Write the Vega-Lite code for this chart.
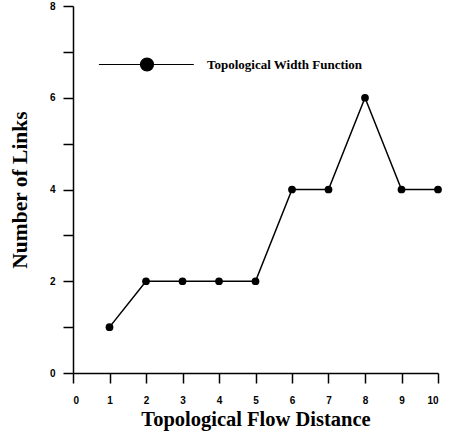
{
  "$schema": "https://vega.github.io/schema/vega-lite/v6.json",
  "width": 365,
  "height": 367,
  "autosize": "none",
  "padding": {"left": 73, "top": 6, "right": 14, "bottom": 64},
  "background": "white",
  "config": {
    "view": {"stroke": null},
    "axis": {
      "domainColor": "black",
      "domainWidth": 1.5,
      "tickColor": "black",
      "tickWidth": 1.5,
      "tickSize": 10,
      "grid": false,
      "labelFont": "Liberation Sans",
      "labelFontWeight": "bold",
      "labelFontSize": 10,
      "labelColor": "black",
      "titleFont": "Liberation Serif",
      "titleFontWeight": "bold",
      "titleColor": "black"
    }
  },
  "data": {
    "values": [
      {"distance": 1, "links": 1},
      {"distance": 2, "links": 2},
      {"distance": 3, "links": 2},
      {"distance": 4, "links": 2},
      {"distance": 5, "links": 2},
      {"distance": 6, "links": 4},
      {"distance": 7, "links": 4},
      {"distance": 8, "links": 6},
      {"distance": 9, "links": 4},
      {"distance": 10, "links": 4}
    ]
  },
  "encoding": {
    "x": {
      "field": "distance",
      "type": "quantitative",
      "scale": {"domain": [0, 10], "nice": false},
      "axis": {
        "values": [0, 1, 2, 3, 4, 5, 6, 7, 8, 9, 10],
        "labelPadding": 12,
        "title": "Topological Flow Distance",
        "titleFontSize": 20.5,
        "titlePadding": 4
      }
    },
    "y": {
      "field": "links",
      "type": "quantitative",
      "scale": {"domain": [0, 8], "nice": false},
      "axis": {
        "values": [0, 1, 2, 3, 4, 5, 6, 7, 8],
        "labelExpr": "datum.value % 2 === 0 ? datum.label : ''",
        "labelPadding": 8,
        "title": "Number of Links",
        "titleFontSize": 21.5,
        "titlePadding": 18
      }
    }
  },
  "layer": [
    {
      "mark": {"type": "line", "color": "black", "strokeWidth": 1.5}
    },
    {
      "mark": {"type": "circle", "size": 60, "opacity": 1},
      "encoding": {
        "color": {
          "datum": "Topological Width Function",
          "scale": {"range": ["black"]},
          "legend": {
            "title": null,
            "orient": "none",
            "legendX": 66.5,
            "legendY": 51,
            "padding": 0,
            "symbolType": "M-7.4,0H7.2M-1,0A1,1,0,1,0,1,0A1,1,0,1,0,-1,0Z",
            "symbolSize": 169,
            "symbolFillColor": "black",
            "symbolStrokeColor": "black",
            "symbolStrokeWidth": 1.2,
            "symbolOpacity": 1,
            "labelFont": "Liberation Serif",
            "labelFontWeight": "bold",
            "labelFontSize": 13,
            "labelColor": "black",
            "labelOffset": 52.5
          }
        }
      }
    }
  ]
}
